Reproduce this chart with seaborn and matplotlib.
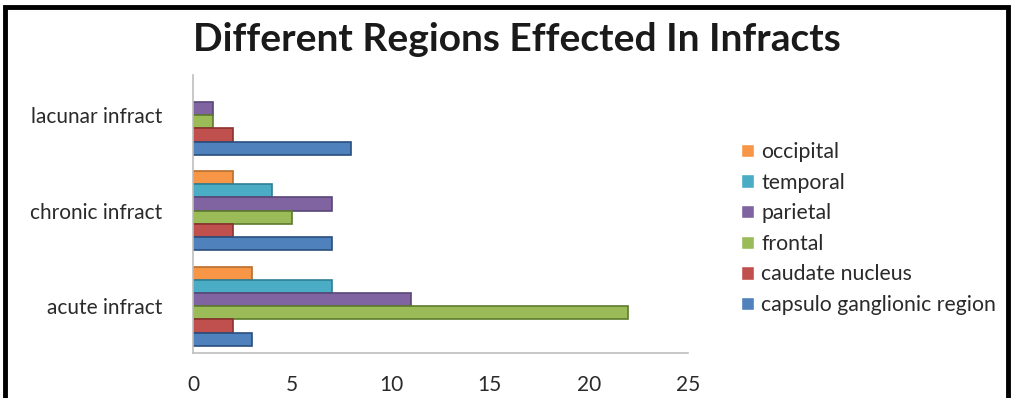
import pandas as pd
import matplotlib.pyplot as plt
import seaborn as sns
from matplotlib.patches import Rectangle

# values
infract_types = ['lacunar infract', 'chronic infract', 'acute infract']
regions = ['occipital', 'temporal', 'parietal', 'frontal',
           'caudate nucleus', 'capsulo ganglionic region']
occipital = [0, 2, 3]
temporal = [0, 4, 7]
parietal = [1, 7, 11]
frontal = [1, 5, 22]
caudate = [2, 2, 2]
capsulo = [8, 7, 3]
x_ticks = [0, 5, 10, 15, 20, 25]

colors = ['#F79646', '#4BACC6', '#8064A2', '#9BBB59', '#C0504D', '#4F81BD']
edges = ['#B86E2F', '#2E7F95', '#5A4677', '#5E7A2E', '#8C3230', '#2A4E7E']

rows = []
for region, vals in zip(regions, [occipital, temporal, parietal, frontal, caudate, capsulo]):
    for kind, v in zip(infract_types, vals):
        rows.append({'Type': kind, 'Region': region, 'Count': v})
df = pd.DataFrame(rows)

sns.set_style('white')
plt.rcParams['font.family'] = ['Lato', 'DejaVu Sans']

fig = plt.figure(figsize=(10.13, 3.98), dpi=100)
ax = fig.add_axes([0.1905, 0.113, 0.4885, 0.6986])

sns.barplot(data=df, y='Type', x='Count', hue='Region', order=infract_types,
            hue_order=regions, palette=colors, orient='h', width=0.83,
            errorbar=None, ax=ax, saturation=1)

# dark edge on each non-empty bar, to hint at the bevel look
for container, ec in zip(ax.containers, edges):
    for bar in container:
        if bar.get_width() > 0:
            bar.set_edgecolor(ec)
            bar.set_linewidth(1.2)
        else:
            bar.set_visible(False)

ax.set_xlim(0, 25)
ax.set_ylim(2.49, -0.42)
ax.set_xticks(x_ticks)
ax.set_xlabel('')
ax.set_ylabel('')
ax.tick_params(axis='x', length=0, pad=16, labelsize=15, colors='#2a2a2a')
ax.tick_params(axis='y', length=0, pad=22, labelsize=15, colors='#2a2a2a')
for side in ['top', 'right']:
    ax.spines[side].set_visible(False)
for side in ['left', 'bottom']:
    ax.spines[side].set_color('#BFBFBF')
    ax.spines[side].set_linewidth(1.2)

handles, labels = ax.get_legend_handles_labels()
ax.legend(handles, labels, loc='center left', bbox_to_anchor=(0.721, 0.426),
          bbox_transform=fig.transFigure, frameon=False, fontsize=15.3,
          handlelength=0.6, handleheight=0.6, handletextpad=0.35,
          labelspacing=0.5, labelcolor='#2a2a2a', borderpad=0)

fig.text(0.51, 0.902, 'Different Regions Effected In Infracts', ha='center',
         va='center', fontsize=28, fontweight='bold', color='#1a1a1a')

# black frame around the chart, cut off at the bottom like the source
fig.add_artist(Rectangle((0.005, -0.05), 0.99, 1.032, transform=fig.transFigure,
                         fill=False, edgecolor='black', linewidth=3.5))

fig.savefig('out.png', dpi=100)
